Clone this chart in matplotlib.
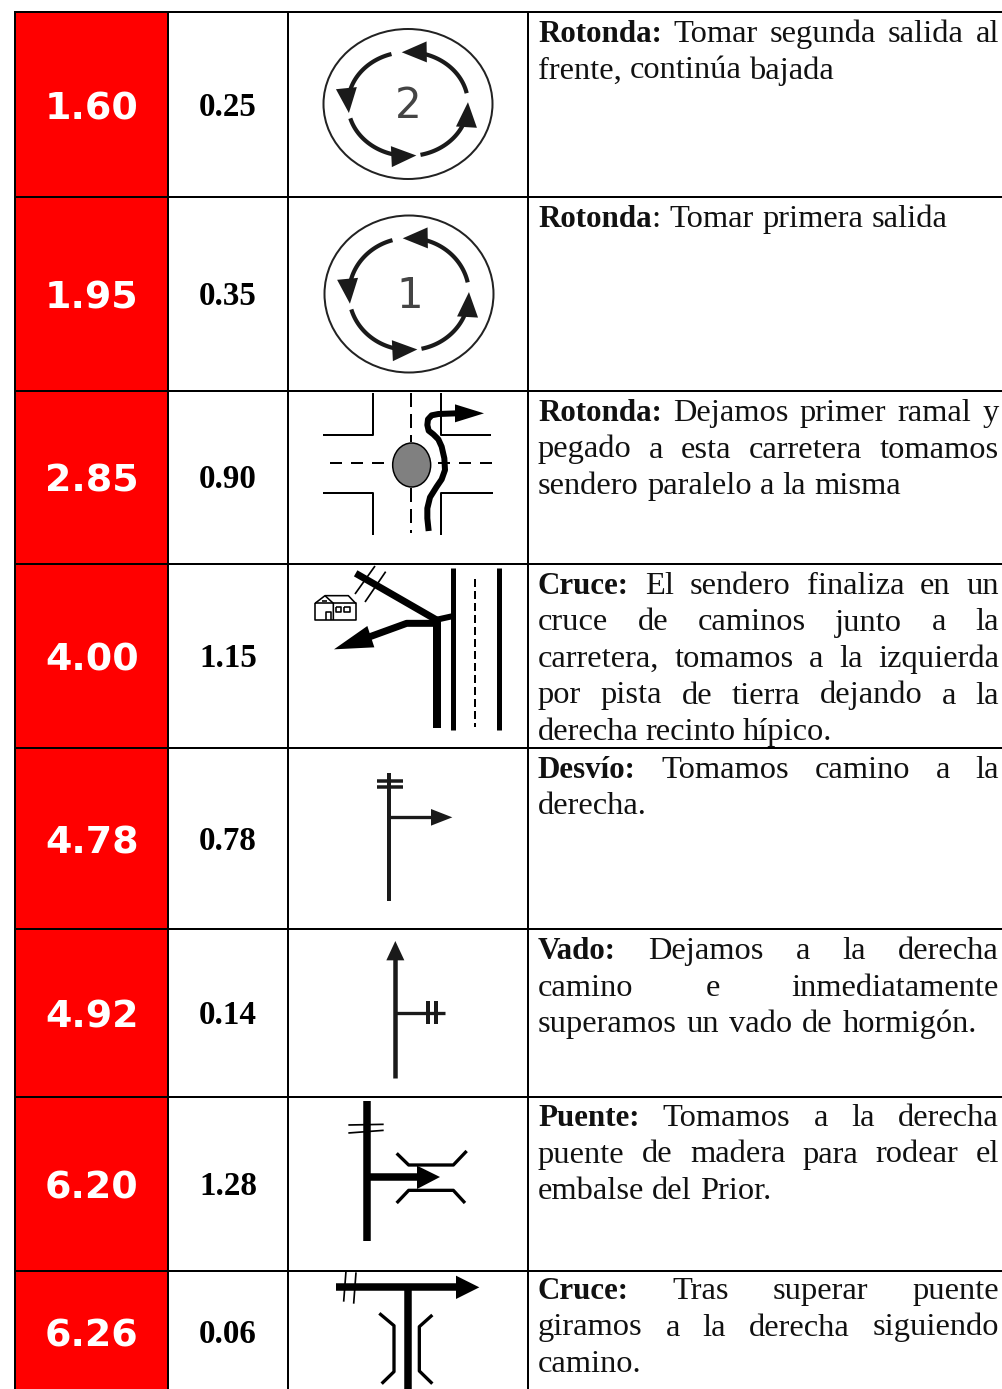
import numpy as np
import matplotlib
matplotlib.use("Agg")
import matplotlib.pyplot as plt
from matplotlib.patches import Ellipse, Polygon, Rectangle

# table content
km_total = ["1.60", "1.95", "2.85", "4.00", "4.78", "4.92", "6.20", "6.26"]
km_partial = ["0.25", "0.35", "0.90", "1.15", "0.78", "0.14", "1.28", "0.06"]
bold_heads = ["Rotonda:", "Rotonda", "Rotonda:", "Cruce:", "Desvío:", "Vado:", "Puente:", "Cruce:"]
descriptions = [
    ["Rotonda: Tomar segunda salida al", "frente, continúa bajada"],
    ["Rotonda: Tomar primera salida"],
    ["Rotonda: Dejamos primer ramal y", "pegado a esta carretera tomamos", "sendero paralelo a la misma"],
    ["Cruce: El sendero finaliza en un", "cruce de caminos junto a la", "carretera, tomamos a la izquierda",
     "por pista de tierra dejando a la", "derecha recinto hípico."],
    ["Desvío: Tomamos camino a la", "derecha."],
    ["Vado: Dejamos a la derecha", "camino e inmediatamente", "superamos un vado de hormigón."],
    ["Puente: Tomamos a la derecha", "puente de madera para rodear el", "embalse del Prior."],
    ["Cruce: Tras superar puente", "giramos a la derecha siguiendo", "camino."],
]
line_ends = [[999, 834], [948], [999, 999, 901], [999, 999, 999, 999, 832],
             [999, 647], [999, 999, 977], [999, 999, 771], [999, 999, 640]]

row_y = [12, 197, 391, 564, 748, 929, 1097, 1271, 1389]
col_x = [15, 168, 288, 528, 1003]
first_base = [42, 227, 421, 594, 778, 959, 1126, 1299]
LINE_STEP = 36.5
TEXT_X = 538
TEXT_PX = 32.5
BOLD_PX = 31
INK = "#1a1a1a"

fig = plt.figure(figsize=(10.03, 13.89), dpi=100)
ax = fig.add_axes([0, 0, 1, 1])
ax.set_xlim(0, 1003)
ax.set_ylim(1389, 0)
ax.axis("off")
renderer = fig.canvas.get_renderer()


def px(w):
    return w * 0.72


def line(pts, origin, w=2, color="k", cap="butt", dashes=None):
    # pts come in zoom crop coordinates (3x)
    pts = np.array(pts, dtype=float) / 3 + origin
    l, = ax.plot(pts[:, 0], pts[:, 1], color=color, lw=px(w), solid_capstyle=cap,
                 solid_joinstyle="round", zorder=3)
    if dashes:
        l.set_linestyle((0, dashes))
        l.set_dash_capstyle("butt")
    return l


def head(pts, origin, color="k"):
    pts = np.array(pts, dtype=float) / 3 + origin
    ax.add_patch(Polygon(pts, closed=True, fc=color, ec="none", zorder=4))


def ring_arrow(cx, cy, rx, ry, a0, a1):
    t = np.radians(np.arange(a0, a1 + 1, 2.0))
    x = cx + rx * np.cos(t)
    y = cy - ry * np.sin(t)
    tip = np.array([x[-1], y[-1]])
    d = tip - np.array([x[-6], y[-6]])
    d = d / np.hypot(*d)
    n = np.array([-d[1], d[0]])
    base = tip - d * 25
    keep = np.hypot(x - tip[0], y - tip[1]) > 22
    ax.plot(x[keep], y[keep], color=INK, lw=px(4.2), solid_capstyle="butt", zorder=3)
    ax.add_patch(Polygon([tip, base + n * 10.5, base - n * 10.5], closed=True, fc=INK, ec="none", zorder=4))


def roundabout(cx, cy, w, h, ry, label, lx, ly):
    ax.add_patch(Ellipse((cx, cy), w, h, fc="none", ec="#222222", lw=px(2), zorder=3))
    for a0, a1 in [(12, 96), (106, 190), (196, 278), (282, 363)]:
        ring_arrow(cx, cy, 60, ry, a0, a1)
    ax.text(lx, ly, label, family="DejaVu Sans", size=px(42), color="#444444",
            ha="center", va="center", zorder=4)


# cells and grid
for i in range(8):
    ax.add_patch(Rectangle((col_x[0], row_y[i]), col_x[1] - col_x[0], row_y[i + 1] - row_y[i],
                           fc="#ff0000", ec="none", zorder=1))
    cy = (row_y[i] + row_y[i + 1]) / 2
    if i == 7:
        cy = 1332
    ax.text(92, cy + 4.5, km_total[i], color="white", family="DejaVu Sans", weight="bold",
            size=px(38), ha="center", va="center", zorder=2)
    ax.text(228, cy + 2.5, km_partial[i], color="black", family="Liberation Serif", weight="bold",
            size=px(33), ha="center", va="center", zorder=2)
for y in row_y[:-1]:
    ax.plot([col_x[0] - 1, 1003], [y, y], color="k", lw=px(2), solid_capstyle="butt", zorder=5)
for x in col_x[:-1]:
    ax.plot([x, x], [row_y[0], 1389], color="k", lw=px(2), solid_capstyle="butt", zorder=5)


# justified description text, word by word
def word_width(s, weight):
    size = BOLD_PX if weight == "bold" else TEXT_PX
    t = ax.text(0, 0, s, family="Liberation Serif", weight=weight, size=px(size))
    w = t.get_window_extent(renderer).width
    t.remove()
    return w


for i, lines in enumerate(descriptions):
    for j, s in enumerate(lines):
        words = s.split(" ")
        parts = []
        for k, wd in enumerate(words):
            if j == 0 and k == 0:
                rest = wd[len(bold_heads[i]):]
                parts.append([(bold_heads[i], "bold")] + ([(rest, "normal")] if rest else []))
            else:
                parts.append([(wd, "normal")])
        widths = [sum(word_width(p, b) for p, b in ws) for ws in parts]
        gap = (line_ends[i][j] - TEXT_X - sum(widths)) / max(len(parts) - 1, 1)
        x = TEXT_X
        base = first_base[i] + j * LINE_STEP
        for ws, wd in zip(parts, widths):
            xx = x
            for p, b in ws:
                size = BOLD_PX if b == "bold" else TEXT_PX
                ax.text(xx, base, p, family="Liberation Serif", weight=b, size=px(size),
                        color="#111111", ha="left", va="baseline", zorder=2)
                xx += word_width(p, b)
            x += wd + gap

# icon 1 and 2, roundabouts
roundabout(408, 104, 169, 150, 52, "2", 408, 106)
roundabout(409, 294, 169, 157, 56, "1", 410, 296)

# icon 3, crossing with roundabout
o3 = np.array([290, 390])
line([(99, 134), (250, 134), (250, 10)], o3)
line([(453, 10), (453, 134), (603, 134)], o3)
line([(99, 310), (250, 310), (250, 435)], o3)
line([(608, 310), (453, 310), (453, 435)], o3)
line([(362, 10), (362, 155)], o3, dashes=(7, 3.5))
line([(362, 295), (362, 430)], o3, dashes=(7, 3.5))
line([(120, 218), (300, 218)], o3, dashes=(6, 4.5))
line([(605, 218), (420, 218)], o3, dashes=(6, 4.5))
ax.add_patch(Ellipse((290 + 365 / 3, 390 + 225 / 3), 38, 44, fc="#808080", ec="k", lw=px(1.5), zorder=3))
line([(416, 423), (412, 385), (412, 355), (420, 322), (440, 290), (455, 268), (465, 240),
      (463, 205), (455, 170), (445, 148), (430, 133), (416, 122), (412, 105), (414, 88),
      (425, 76), (445, 72), (500, 70)], o3, w=6)
head([(495, 43), (582, 70), (495, 97)], o3)

# icon 4, junction by the road
o4 = np.array([290, 390])
line([(197, 550), (440, 690)], o4, w=7)
line([(195, 612), (255, 528)], o4, w=1.7)
line([(225, 636), (287, 545)], o4, w=1.7)
line([(436, 690), (490, 678)], o4, w=6)
line([(441, 690), (441, 1013)], o4, w=8)
line([(452, 700), (350, 700), (240, 740)], o4, w=7)
head([(132, 778), (232, 708), (253, 772)], o4)
line([(489, 533), (489, 1020)], o4, w=5)
line([(627, 533), (627, 1020)], o4, w=5)
line([(555, 567), (555, 1010)], o4, w=2, dashes=(4, 2))
line([(75, 640), (75, 690), (197, 690), (197, 640), (75, 640)], o4, w=1.6)
line([(75, 640), (105, 617), (175, 617), (197, 640)], o4, w=1.6)
line([(105, 617), (130, 640), (130, 690)], o4, w=1.6)
line([(108, 690), (108, 665), (122, 665), (122, 690)], o4, w=1.6)
line([(139, 651), (153, 651), (153, 665), (139, 665), (139, 651)], o4, w=1.6)
line([(162, 651), (181, 651), (181, 665), (162, 665), (162, 651)], o4, w=1.6)
line([(95, 632), (111, 632)], o4, w=1.6)

# icon 5 and 6, turn-offs
o5 = np.array([290, 750])
line([(298, 68), (298, 453)], o5, w=4, color=INK)
line([(261, 92), (338, 92)], o5, w=3.5, color=INK)
line([(261, 112), (338, 112)], o5, w=3.5, color=INK)
line([(298, 202), (430, 202)], o5, w=3.3, color=INK)
head([(423, 177), (487, 202), (423, 227)], o5, color=INK)
line([(316, 625), (316, 985)], o5, w=4.5, color=INK)
head([(289, 631), (316, 573), (343, 631)], o5, color=INK)
line([(316, 788), (464, 788)], o5, w=3.3, color=INK)
line([(415, 754), (415, 823)], o5, w=4, color=INK)
line([(438, 754), (438, 823)], o5, w=4, color=INK)

# icon 7 and 8, bridges
o7 = np.array([290, 1095])
line([(230, 18), (230, 438)], o7, w=7.5)
line([(175, 90), (281, 88)], o7, w=1.7)
line([(175, 114), (281, 106)], o7, w=1.7)
line([(230, 246), (385, 246)], o7, w=7.5)
head([(381, 212), (450, 246), (381, 282)], o7)
line([(320, 175), (356, 210), (490, 210), (530, 168)], o7, w=3.3)
line([(320, 324), (356, 286), (490, 286), (525, 324)], o7, w=3.3)
line([(138, 577), (500, 577)], o7, w=7.5)
head([(498, 542), (568, 577), (498, 612)], o7)
line([(354, 577), (354, 882)], o7, w=7.5)
line([(168, 528), (161, 620)], o7, w=1.7)
line([(198, 532), (191, 626)], o7, w=1.7)
line([(268, 655), (312, 692), (312, 830), (275, 866)], o7, w=3.3)
line([(427, 660), (388, 695), (388, 828), (427, 866)], o7, w=3.3)

fig.savefig("out.png", dpi=100, facecolor="white")
